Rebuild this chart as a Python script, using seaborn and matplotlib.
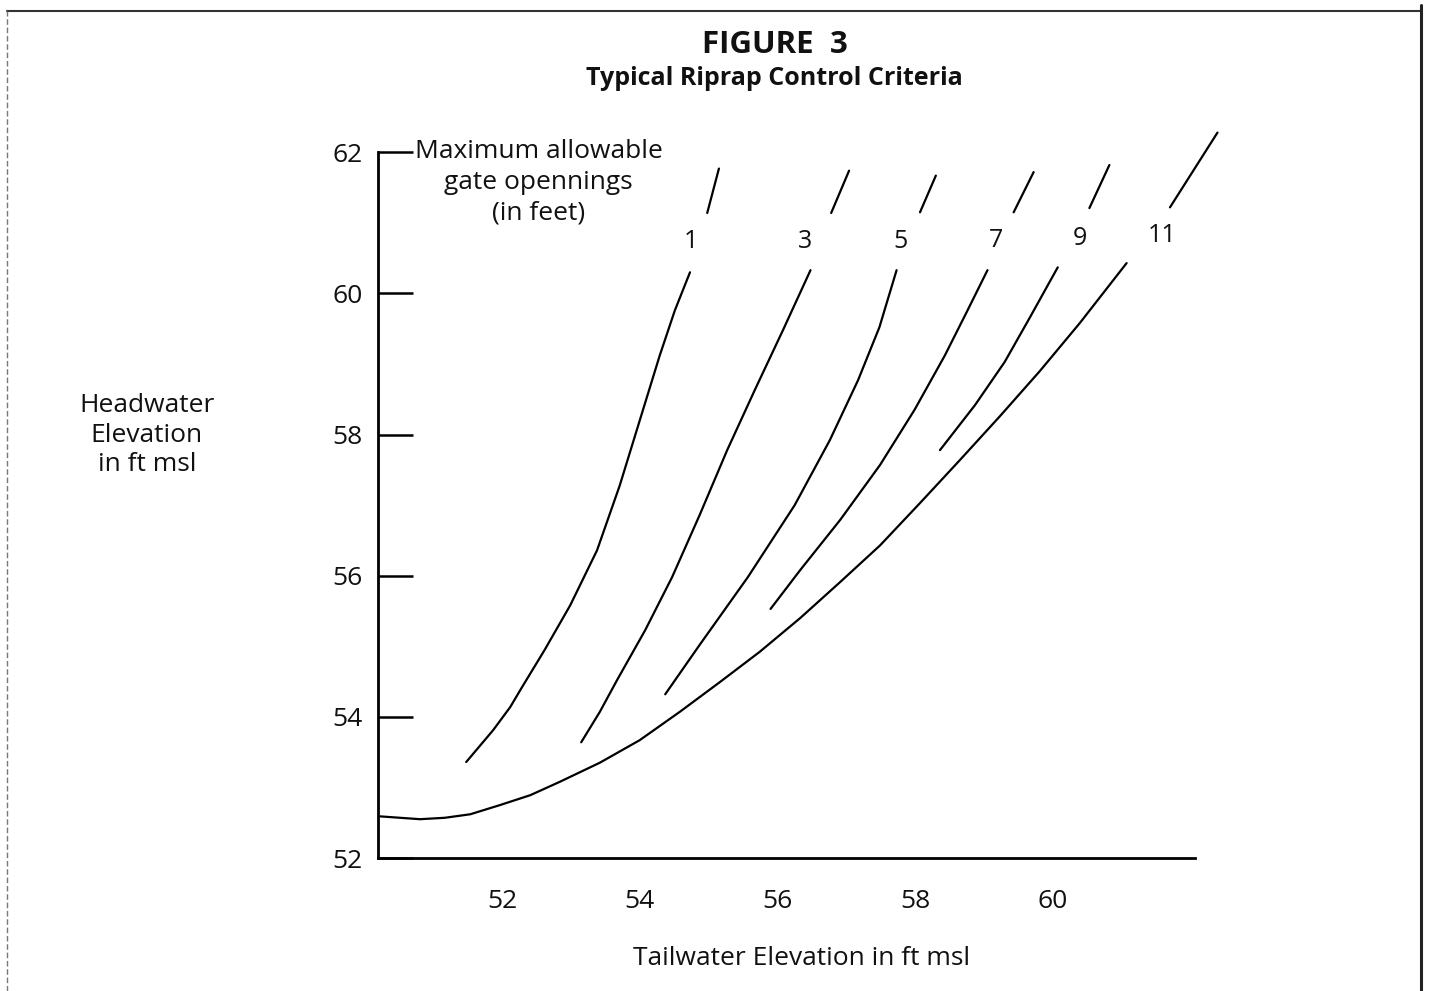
import seaborn as sns
import matplotlib.pyplot as plt
from matplotlib.lines import Line2D

# gate opening curves: lower (main) part and short upper stub
g1_x = [51.48, 51.87, 52.12, 52.29, 52.62, 52.99, 53.38, 53.71, 54.00, 54.29, 54.51, 54.73]
g1_y = [53.36, 53.81, 54.14, 54.42, 54.95, 55.58, 56.36, 57.28, 58.20, 59.12, 59.76, 60.30]
g1_top_x = [54.98, 55.15]
g1_top_y = [61.14, 61.77]

g3_x = [53.15, 53.42, 53.67, 54.08, 54.47, 54.87, 55.27, 55.67, 56.08, 56.48]
g3_y = [53.64, 54.07, 54.52, 55.23, 55.98, 56.86, 57.78, 58.63, 59.48, 60.33]
g3_top_x = [56.78, 57.04]
g3_top_y = [61.14, 61.74]

g5_x = [54.37, 54.87, 55.57, 56.25, 56.76, 57.17, 57.48, 57.73]
g5_y = [54.32, 55.02, 55.98, 57.00, 57.92, 58.77, 59.52, 60.33]
g5_top_x = [58.07, 58.30]
g5_top_y = [61.15, 61.67]

g7_x = [55.90, 56.33, 56.91, 57.49, 57.99, 58.43, 58.76, 59.05]
g7_y = [55.53, 56.08, 56.79, 57.57, 58.35, 59.12, 59.76, 60.33]
g7_top_x = [59.43, 59.72]
g7_top_y = [61.15, 61.72]

g9_x = [58.36, 58.87, 59.30, 59.66, 60.07]
g9_y = [57.78, 58.42, 59.03, 59.65, 60.37]
g9_top_x = [60.53, 60.82]
g9_top_y = [61.21, 61.82]

g11_x = [50.23, 50.52, 50.81, 51.17, 51.54, 51.97, 52.41, 52.84, 53.42, 54.00, 54.58,
         55.16, 55.74, 56.33, 56.91, 57.49, 58.07, 58.65, 59.23, 59.81, 60.39, 61.07]
g11_y = [52.59, 52.57, 52.55, 52.57, 52.62, 52.75, 52.89, 53.08, 53.35, 53.67, 54.07,
         54.49, 54.92, 55.40, 55.91, 56.43, 57.03, 57.64, 58.26, 58.90, 59.58, 60.43]
g11_top_x = [61.70, 62.39]
g11_top_y = [61.22, 62.28]

gate_labels = ["1", "3", "5", "7", "9", "11"]
label_x = [54.74, 56.40, 57.79, 59.18, 60.39, 61.58]
label_y = [60.74, 60.74, 60.74, 60.75, 60.78, 60.82]

x_ticks = [52, 54, 56, 58, 60]
y_ticks = [52, 54, 56, 58, 60, 62]

sns.set_theme(style="white")
plt.rcParams['font.family'] = ['Open Sans', 'DejaVu Sans']

fig = plt.figure(figsize=(14.32, 9.91), dpi=100)
ax = fig.add_axes([0.2640, 0.1342, 0.5915, 0.7477])

segments = [(g1_x, g1_y), (g1_top_x, g1_top_y), (g3_x, g3_y), (g3_top_x, g3_top_y),
            (g5_x, g5_y), (g5_top_x, g5_top_y), (g7_x, g7_y), (g7_top_x, g7_top_y),
            (g9_x, g9_y), (g9_top_x, g9_top_y), (g11_x, g11_y), (g11_top_x, g11_top_y)]
for xs, ys in segments:
    sns.lineplot(x=xs, y=ys, ax=ax, color="black", linewidth=1.6,
                 sort=False, estimator=None, clip_on=False)

for lab, lx, ly in zip(gate_labels, label_x, label_y):
    ax.text(lx, ly, lab, ha="center", va="center", fontsize=18, color="#111111")

ax.text(52.53, 61.57, "Maximum allowable\ngate opennings\n(in feet)", ha="center", va="center",
        fontsize=19, color="#111111", linespacing=1.3)

ax.set_xlim(50.2, 62.5)
ax.set_ylim(52, 62.5)
ax.set_xticks(x_ticks)
ax.set_yticks(y_ticks)
ax.set_xticklabels([str(t) for t in x_ticks])
ax.set_yticklabels([str(t) for t in y_ticks])
for s in ["top", "right"]:
    ax.spines[s].set_visible(False)
ax.spines["bottom"].set_bounds(50.2, 62.06)
ax.spines["left"].set_bounds(52, 62)
for s in ["bottom", "left"]:
    ax.spines[s].set_color("black")
    ax.spines[s].set_linewidth(2.0)
ax.tick_params(axis="y", direction="in", length=25, width=1.8, color="black",
               pad=11, labelsize=19, labelcolor="#111111", left=True)
ax.tick_params(axis="x", length=0, pad=22, labelsize=19, labelcolor="#111111")
ax.set_xlabel("Tailwater Elevation in ft msl", fontsize=19, color="#111111", labelpad=23)
ax.set_ylabel("")

fig.text(0.1025, 0.561, "Headwater\nElevation\nin ft msl", ha="center", va="center",
         fontsize=19, color="#111111", linespacing=1.25)
fig.text(0.541, 0.955, "FIGURE  3", ha="center", va="center", fontsize=22.5,
         fontweight="bold", color="#111111")
fig.text(0.541, 0.921, "Typical Riprap Control Criteria", ha="center", va="center",
         fontsize=18, fontweight="bold", color="#111111")

# scanned page frame
fig.add_artist(Line2D([0.005, 0.992], [0.989, 0.989], color="#333333", linewidth=1.5))
fig.add_artist(Line2D([0.005, 0.005], [0.0, 0.989], color="#777777", linewidth=1.0,
                      linestyle=(0, (4, 2))))
fig.add_artist(Line2D([0.992, 0.992], [0.0, 0.995], color="#222222", linewidth=2.2))

fig.savefig("out.png", dpi=100, facecolor="white")
